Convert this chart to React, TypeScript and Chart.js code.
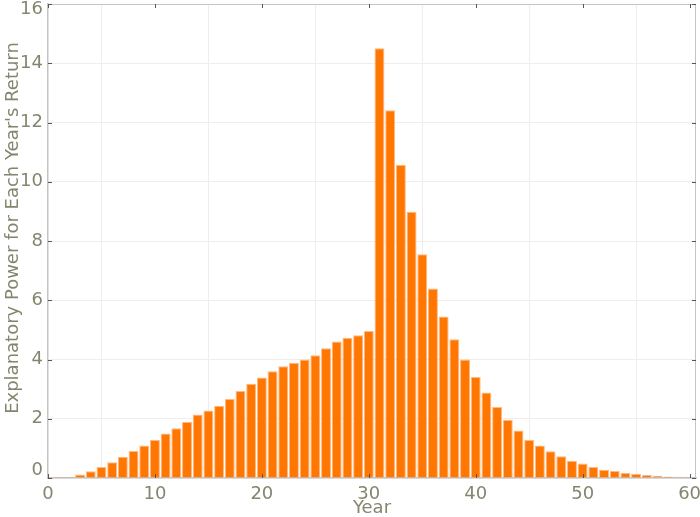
import React, { useEffect, useRef } from "react";
import { Chart, registerables } from "chart.js";

Chart.register(...registerables);

const years: number[] = Array.from({ length: 60 }, (_, i) => i + 1);
const values: number[] = [
  0.03, 0.03, 0.12, 0.23, 0.37, 0.53, 0.72, 0.91, 1.1, 1.28,
  1.5, 1.68, 1.89, 2.14, 2.28, 2.44, 2.67, 2.94, 3.18, 3.39,
  3.6, 3.77, 3.89, 4.0, 4.14, 4.38, 4.61, 4.73, 4.82, 4.96,
  14.51, 12.41, 10.57, 8.99, 7.55, 6.4, 5.45, 4.68, 4.0, 3.41,
  2.89, 2.4, 1.97, 1.6, 1.28, 1.1, 0.9, 0.73, 0.58, 0.49,
  0.37, 0.28, 0.24, 0.18, 0.14, 0.1, 0.08, 0.05, 0.04, 0.03,
];
const xTicks: number[] = [0, 10, 20, 30, 40, 50, 60];
const yTicks: number[] = [0, 2, 4, 6, 8, 10, 12, 14, 16];
const xTitle = "Year";
const yTitle = "Explanatory Power for Each Year's Return";

const FONT = "'DejaVu Sans', sans-serif";
const LABEL = "#85856f";

const framePlugin = {
  id: "frame",
  afterDraw(chart: any) {
    const { ctx, chartArea } = chart;
    const { left, right, top, bottom } = chartArea;
    ctx.save();
    ctx.strokeStyle = "#c4c4c4";
    ctx.lineWidth = 1;
    ctx.beginPath();
    ctx.moveTo(left, top + 0.5);
    ctx.lineTo(right, top + 0.5);
    ctx.moveTo(right - 0.5, top);
    ctx.lineTo(right - 0.5, bottom);
    ctx.stroke();
    ctx.strokeStyle = "#555555";
    ctx.beginPath();
    const xs = chart.scales.x;
    const ys = chart.scales.y;
    xs.ticks.forEach((t: any) => {
      const px = Math.round(xs.getPixelForValue(t.value)) + 0.5;
      ctx.moveTo(px, top);
      ctx.lineTo(px, top + 4);
      ctx.moveTo(px, bottom);
      ctx.lineTo(px, bottom - 4);
    });
    ys.ticks.forEach((t: any) => {
      const py = Math.round(ys.getPixelForValue(t.value)) + 0.5;
      ctx.moveTo(left, py);
      ctx.lineTo(left + 4, py);
      ctx.moveTo(right, py);
      ctx.lineTo(right - 4, py);
    });
    ctx.stroke();
    ctx.fillStyle = LABEL;
    ctx.font = `18px ${FONT}`;
    ctx.textAlign = "right";
    ctx.textBaseline = "middle";
    ys.ticks.forEach((t: any) => {
      const py = ys.getPixelForValue(t.value);
      const yy = Math.min(Math.max(py, top + 5), bottom - 8);
      ctx.fillText(String(t.value), left - 5, yy);
    });
    ctx.font = `18px ${FONT}`;
    ctx.textAlign = "center";
    ctx.translate(13, 228);
    ctx.rotate(-Math.PI / 2);
    ctx.fillText(yTitle, 0, 0);
    ctx.restore();
  },
};

export default function App() {
  const ref = useRef<HTMLCanvasElement | null>(null);
  useEffect(() => {
    if (!ref.current) return;
    const chart = new Chart(ref.current, {
      type: "bar",
      data: {
        datasets: [
          {
            data: years.map((x, i) => ({ x, y: values[i] })),
            backgroundColor: "#ff7600",
            borderColor: "rgba(255,185,130,1)",
            borderWidth: 1,
            barPercentage: 0.93,
            categoryPercentage: 1,
          },
        ],
      },
      options: {
        animation: false,
        responsive: false,
        maintainAspectRatio: false,
        layout: { padding: { top: 4, right: 4, left: 0, bottom: 0 } },
        plugins: { legend: { display: false }, tooltip: { enabled: false } },
        scales: {
          x: {
            type: "linear",
            min: 0,
            max: 60.6,
            offset: false,
            afterBuildTicks: (s: any) => {
              s.ticks = xTicks.map((v) => ({ value: v }));
            },
            afterFit: (s: any) => {
              s.height = 39;
              s.paddingLeft = 0;
              s.paddingRight = 0;
            },
            ticks: {
              color: LABEL,
              font: { family: FONT, size: 18 },
              padding: 6,
            },
            grid: { color: "#eeeeee", drawTicks: false },
            border: { color: "#c4c4c4", width: 1.5 },
            title: {
              display: true,
              text: xTitle,
              color: LABEL,
              font: { family: FONT, size: 18 },
              padding: { top: 0, bottom: -2 },
            },
          },
          y: {
            min: 0,
            max: 16,
            afterBuildTicks: (s: any) => {
              s.ticks = yTicks.map((v) => ({ value: v }));
            },
            afterFit: (s: any) => {
              s.width = 48;
              s.paddingTop = 0;
              s.paddingBottom = 0;
            },
            ticks: { display: false },
            grid: { color: "#eeeeee", drawTicks: false },
            border: { color: "#c4c4c4", width: 1.5 },
          },
        },
      },
      plugins: [framePlugin],
    });
    return () => chart.destroy();
  }, []);
  return (
    <div style={{ position: "absolute", left: 0, top: 0, width: 700, height: 517, background: "#fff" }}>
      <canvas ref={ref} width={700} height={517} />
    </div>
  );
}
